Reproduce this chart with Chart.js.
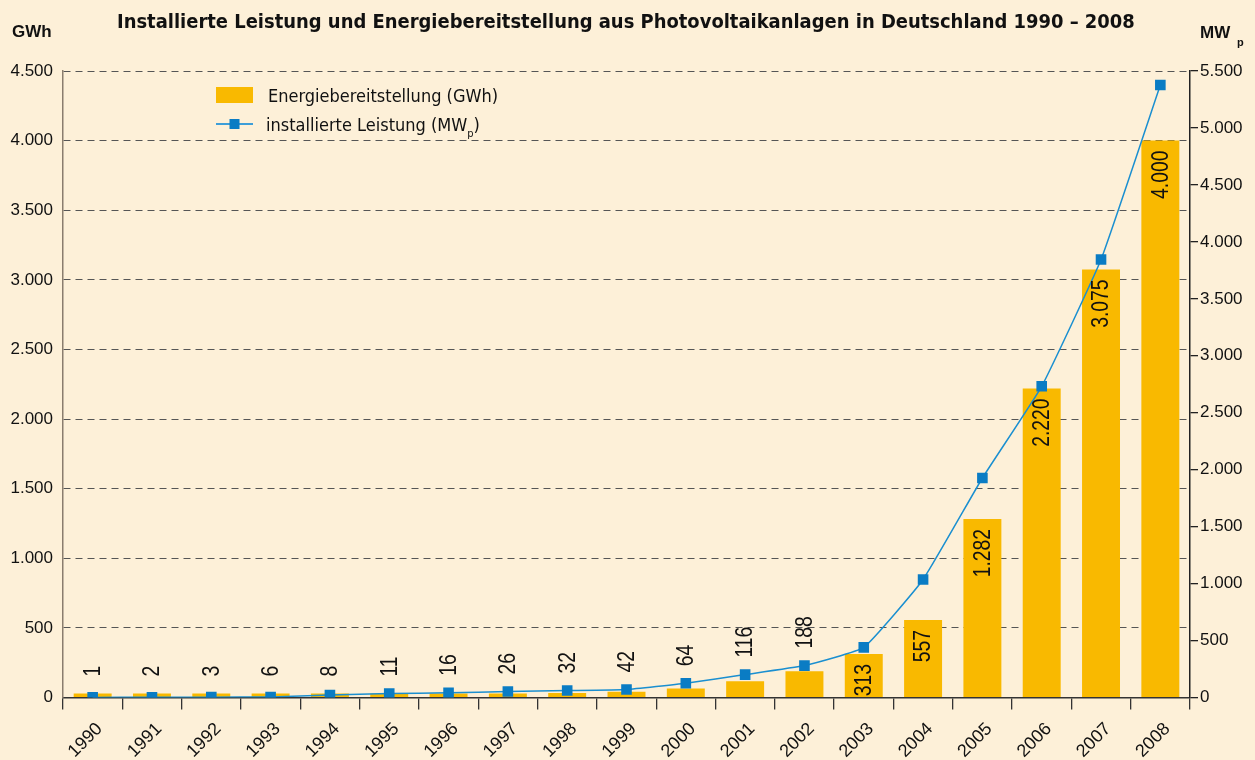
<!DOCTYPE html>
<html>
<head>
<meta charset="utf-8">
<script src="https://cdn.jsdelivr.net/npm/chart.js@4.4.0/dist/chart.umd.min.js"></script>
<style>
  html, body { margin: 0; padding: 0; background: #fdf0d8; }
  canvas { display: block; }
</style>
</head>
<body>
<canvas id="pvChart" width="1255" height="760"></canvas>
<script>
// Daten
const jahre = ['1990','1991','1992','1993','1994','1995','1996','1997','1998','1999',
               '2000','2001','2002','2003','2004','2005','2006','2007','2008'];
const energieGWh = [1, 2, 3, 6, 8, 11, 16, 26, 32, 42, 64, 116, 188, 313, 557, 1282, 2220, 3075, 4000];
const leistungMWp = [1, 2, 3, 5, 22, 35, 41, 53, 61, 70, 125, 201, 280, 440, 1036, 1927, 2732, 3845, 5377];
const gwhTicks = [0, 500, 1000, 1500, 2000, 2500, 3000, 3500, 4000, 4500];
const mwTicks = [0, 500, 1000, 1500, 2000, 2500, 3000, 3500, 4000, 4500, 5000, 5500];

const titel = 'Installierte Leistung und Energiebereitstellung aus Photovoltaikanlagen in Deutschland 1990 – 2008';
const schmal = '"DejaVu Sans Condensed", "Liberation Sans Narrow", sans-serif';
const arial = '"Liberation Sans", Arial, sans-serif';

const deFormat = v => v.toLocaleString('de-DE');

// Titel, Achsentitel, Legende und Wertebeschriftungen
const beschriftung = {
  id: 'beschriftung',
  afterDatasetsDraw(chart) {
    const ctx = chart.ctx;
    const bars = chart.getDatasetMeta(1).data;
    const punkte = chart.getDatasetMeta(0).data;
    ctx.save();
    ctx.fillStyle = '#111';
    ctx.font = '23px ' + arial;
    ctx.textBaseline = 'middle';
    bars.forEach((bar, i) => {
      const v = energieGWh[i];
      ctx.save();
      if (v >= 300) {
        ctx.translate(bar.x + 1, bar.y + 10);
        ctx.rotate(-Math.PI / 2);
        ctx.scale(0.84, 1);
        ctx.textAlign = 'right';
      } else {
        const y = Math.min(bar.y, punkte[i].y);
        ctx.translate(bar.x + 1, y - 17);
        ctx.rotate(-Math.PI / 2);
        ctx.scale(0.84, 1);
        ctx.textAlign = 'left';
      }
      ctx.fillText(deFormat(v), 0, 0);
      ctx.restore();
    });
    ctx.restore();
  },
  afterDraw(chart) {
    const ctx = chart.ctx;
    ctx.save();
    ctx.fillStyle = '#111';
    ctx.textBaseline = 'alphabetic';

    // Titel auf Breite einpassen
    ctx.font = 'bold 20px ' + schmal;
    let w = ctx.measureText(titel).width;
    let size = 20 * 1018 / w;
    ctx.font = 'bold ' + size.toFixed(2) + 'px ' + schmal;
    ctx.textAlign = 'left';
    ctx.fillText(titel, 117, 28);

    // Achsentitel
    ctx.font = 'bold 17px ' + arial;
    ctx.fillText('GWh', 12, 37);
    ctx.fillText('MW', 1200, 38);
    ctx.font = 'bold 11px ' + arial;
    ctx.fillText('p', 1237, 46);

    // Legende
    ctx.fillStyle = '#f9b900';
    ctx.fillRect(216, 87, 37, 16);
    ctx.strokeStyle = '#3d9ed8';
    ctx.lineWidth = 2;
    ctx.beginPath();
    ctx.moveTo(216, 124);
    ctx.lineTo(253, 124);
    ctx.stroke();
    ctx.fillStyle = '#0a7cc4';
    ctx.fillRect(229.5, 119, 10, 10);

    ctx.fillStyle = '#111';
    ctx.font = '18px ' + schmal;
    ctx.fillText('Energiebereitstellung (GWh)', 268, 102);
    const t1 = 'installierte Leistung (MW';
    ctx.fillText(t1, 266, 131);
    let x = 266 + ctx.measureText(t1).width;
    ctx.font = '11px ' + schmal;
    ctx.fillText('p', x, 137);
    x += ctx.measureText('p').width;
    ctx.font = '18px ' + schmal;
    ctx.fillText(')', x, 131);
    ctx.restore();
  }
};

const ctx = document.getElementById('pvChart').getContext('2d');

new Chart(ctx, {
  data: {
    labels: jahre,
    datasets: [
      {
        type: 'line',
        label: 'installierte Leistung (MWp)',
        data: leistungMWp,
        yAxisID: 'y1',
        borderColor: '#1a8fd0',
        borderWidth: 1.5,
        tension: 0.12,
        pointStyle: 'rect',
        pointRadius: 7.5,
        pointBackgroundColor: '#0a7cc4',
        pointBorderWidth: 0,
        order: 0
      },
      {
        type: 'bar',
        label: 'Energiebereitstellung (GWh)',
        data: energieGWh,
        yAxisID: 'y',
        backgroundColor: '#f9b900',
        barPercentage: 0.64,
        categoryPercentage: 1,
        minBarLength: 4,
        order: 1
      }
    ]
  },
  options: {
    responsive: false,
    animation: false,
    layout: { padding: { top: 71, left: 0, right: 0, bottom: 0 } },
    plugins: {
      legend: { display: false },
      tooltip: { enabled: false },
      title: { display: false }
    },
    scales: {
      x: {
        offset: true,
        grid: { offset: true, drawOnChartArea: false, drawTicks: true, tickLength: 12, color: '#333', lineWidth: 1.3 },
        border: { display: true, color: '#333', width: 1.5 },
        ticks: { color: '#111', font: { size: 18, family: arial }, minRotation: 45, maxRotation: 45, padding: 9, labelOffset: 7 },
        afterFit: s => { s.height = 62.5; }
      },
      y: {
        position: 'left',
        min: 0,
        max: 4500,
        afterBuildTicks: s => { s.ticks = gwhTicks.map(v => ({ value: v })); },
        grid: { color: '#555', lineWidth: 1, drawTicks: false },
        border: { display: true, color: '#8a7d6e', width: 1.5, dash: [7, 5] },
        ticks: { color: '#111', font: { size: 17, family: arial }, padding: 10, callback: v => deFormat(v) },
        afterFit: s => { s.width = 63; }
      },
      y1: {
        position: 'right',
        min: 0,
        max: 5500,
        afterBuildTicks: s => { s.ticks = mwTicks.map(v => ({ value: v })); },
        grid: { drawOnChartArea: false, drawTicks: true, tickLength: 8, color: '#222', lineWidth: 1.3 },
        border: { display: true, color: '#222', width: 1.5 },
        ticks: { color: '#111', font: { size: 17, family: arial }, padding: 2, callback: v => deFormat(v) },
        afterFit: s => { s.width = 65; }
      }
    }
  },
  plugins: [beschriftung]
});
</script>
</body>
</html>
